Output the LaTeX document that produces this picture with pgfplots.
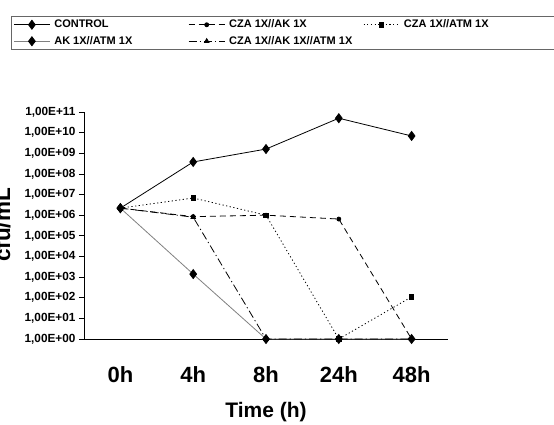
\documentclass[border=0pt]{standalone}
\usepackage{fontspec}
\setmainfont{Liberation Sans}
\usepackage{pgfplots}
\pgfplotsset{compat=1.18}

\begin{document}
\begin{tikzpicture}
\begin{axis}[
    at={(84pt,-339pt)}, anchor=south west,
    scale only axis,
    width=364pt, height=227pt,
    clip=false,
    axis lines*=left,
    axis line style={black, line width=0.8pt},
    ymode=log,
    ymin=1, ymax=1e11,
    ytick={1e0,1e1,1e2,1e3,1e4,1e5,1e6,1e7,1e8,1e9,1e10,1e11},
    yticklabels={{1,00E+00},{1,00E+01},{1,00E+02},{1,00E+03},{1,00E+04},{1,00E+05},
                 {1,00E+06},{1,00E+07},{1,00E+08},{1,00E+09},{1,00E+10},{1,00E+11}},
    yminorticks=false,
    xmin=-0.5, xmax=4.5,
    xtick={0,1,2,3,4},
    xticklabels={0h,4h,8h,24h,48h},
    xtick style={draw=none},
    minor xtick={-0.5,0.5,1.5,2.5,3.5,4.5},
    minor x tick style={black, line width=0.8pt},
    y tick style={black, line width=0.8pt},
    tick align=outside,
    major tick length=5pt, minor tick length=6pt,
    yticklabel style={font=\bfseries\fontsize{11.8}{13}\selectfont},
    xticklabel style={font=\bfseries\fontsize{22}{26}\selectfont, yshift=-19pt},
    xlabel={Time (h)},
    xlabel style={font=\bfseries\fontsize{21}{24}\selectfont,
        at={(axis description cs:0.5,-0.322)}, anchor=center},
    ylabel={cfu/mL},
    ylabel style={font=\bfseries\fontsize{22.5}{26}\selectfont,
        at={(axis description cs:-0.203,0.502)}, anchor=base},
    legend columns=3,
    legend style={at={(axis description cs:-0.2005,1.425)}, anchor=north west,
        draw=black!60, line width=1pt,
        font=\bfseries\fontsize{11}{13}\selectfont,
        inner xsep=2pt, inner ysep=2pt, row sep=3pt,
        /tikz/every odd column/.append style={column sep=2pt},
        /tikz/every even column/.append style={column sep=0pt}},
    legend cell align=left,
    legend image code/.code={\draw[mark repeat=2,mark phase=2,#1]
        plot coordinates {(0pt,0pt) (18pt,0pt) (36pt,0pt)};},
]
% CONTROL
\addplot[black, line width=0.8pt, mark=diamond*, mark size=4.5pt,
    mark options={solid}]
    coordinates {(0,2.2e6) (1,3.8e8) (2,1.6e9) (3,5e10) (4,6.9e9)};
\addlegendentry{\makebox[132pt][l]{CONTROL}}
% CZA 1X//AK 1X
\addplot[black, line width=0.8pt, dash pattern=on 6pt off 4pt, mark=*, mark size=2pt,
    mark options={solid}]
    coordinates {(0,2.2e6) (1,8.5e5) (2,1e6) (3,6.5e5) (4,1)};
\addlegendentry{\makebox[132pt][l]{CZA 1X//AK 1X}}
% CZA 1X//ATM 1X
\addplot[black, line width=0.8pt, dash pattern=on 1.2pt off 2.5pt, mark=square*, mark size=2.2pt,
    mark options={solid}]
    coordinates {(0,2.2e6) (1,6.8e6) (2,1e6) (3,1) (4,1.1e2)};
\addlegendentry{\makebox[160pt][l]{CZA 1X//ATM 1X}}
% AK 1X//ATM 1X
\addplot[black!50, line width=0.8pt, mark=diamond*, mark size=4.5pt,
    mark options={solid, black}]
    coordinates {(0,2.2e6) (1,1.4e3) (2,1) (3,1) (4,1)};
\addlegendentry{\makebox[132pt][l]{AK 1X//ATM 1X}}
% CZA 1X//AK 1X//ATM 1X
\addplot[black, line width=0.8pt, dash pattern=on 8pt off 3pt on 1.2pt off 3pt,
    mark=triangle*, mark size=2.6pt, mark options={solid}]
    coordinates {(0,2.2e6) (1,8e5) (2,1) (3,1) (4,1)};
\addlegendentry{\makebox[132pt][l]{CZA 1X//AK 1X//ATM 1X}}
\end{axis}
\pgfresetboundingbox
\useasboundingbox (0,0) rectangle (554pt,-425pt);
\end{tikzpicture}
\end{document}
